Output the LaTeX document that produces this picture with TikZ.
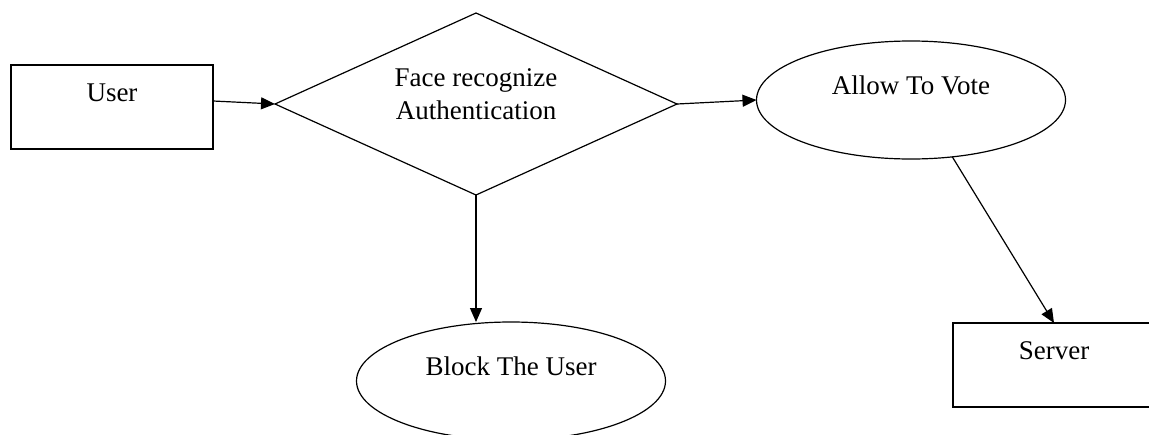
\documentclass[tikz,border=0pt]{standalone}
\usepackage{fontspec}
\setmainfont{Liberation Serif}
\usetikzlibrary{shapes.geometric, arrows.meta}
\tikzstyle{box} = [rectangle, draw, minimum width=101pt, minimum height=42pt, inner sep=0pt, outer sep=0pt, text height=8pt, text depth=14pt]
\tikzstyle{oval} = [ellipse, draw, minimum width=154.5pt, minimum height=59pt, inner sep=0pt, outer sep=0pt, text height=8pt, text depth=14pt]
\tikzstyle{check} = [diamond, draw, aspect=2.2, minimum width=201pt, minimum height=91pt, inner sep=0pt, outer sep=0pt, align=center, text depth=9.5pt]
\tikzstyle{flow} = [-{Triangle[length=7pt, width=6pt]}]

\begin{document}
\begin{tikzpicture}[x=0.5pt, y=-0.5pt, line width=0.6pt, font=\fontsize{13.5}{16.5}\selectfont]
        \useasboundingbox (0,0) rectangle (1149,434);
        \node (user) [box] at (112,107) {User};
        \node (auth) [check] at (476,104) {Face recognize\\Authentication};
        \node (allow) [oval] at (911,100) {Allow To Vote};
        \node (block) [oval] at (511,381) {Block The User};
        \node (server) [box] at (1054,365) {Server};
        \draw [flow] ([yshift=3pt]user.east) -- (auth.west);
        \draw [flow] (auth.east) -- (allow.west);
        \draw [flow] (auth.south) -- (auth.south |- block.north);
        \draw [flow] (allow.-54) -- (server.north);
    \end{tikzpicture}
\end{document}
